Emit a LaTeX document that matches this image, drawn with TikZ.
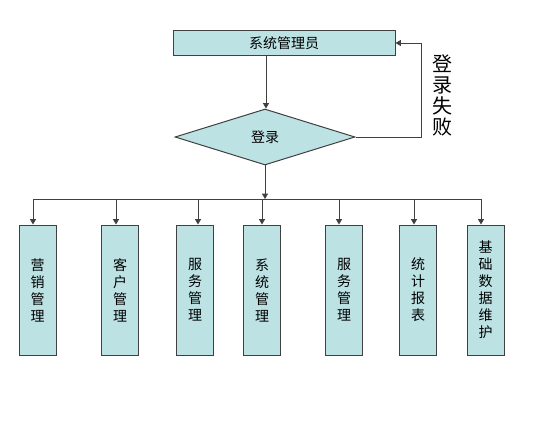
\documentclass[tikz,border=0pt]{standalone}
\usepackage{fontspec}
\newfontfamily\cjk{Noto Sans CJK SC}
\usetikzlibrary{shapes.geometric,arrows.meta}
\definecolor{boxfill}{HTML}{BCE2E4}
\definecolor{boxline}{HTML}{404040}
\tikzset{
  topbox/.style={draw=boxline,fill=boxfill,line width=0.75pt,minimum width=222*0.75pt,minimum height=25*0.75pt,inner sep=0pt,font=\cjk\fontsize{10.5pt}{12pt}\selectfont},
  decide/.style={draw=boxline,fill=boxfill,line width=0.75pt,diamond,aspect=3.2,minimum width=180*0.75pt,minimum height=56*0.75pt,inner sep=0pt,font=\cjk\fontsize{10.5pt}{12pt}\selectfont},
  modbox/.style={draw=boxline,fill=boxfill,line width=0.75pt,minimum width=37*0.75pt,minimum height=130*0.75pt,inner sep=0pt,align=center,font=\cjk\fontsize{10.5pt}{12.75pt}\selectfont},
  conn/.style={draw=black!75,line width=0.6pt},
  arr/.style={conn,-{Triangle[length=4pt,width=4.5pt]}},
  fail/.style={font=\cjk\fontsize{15pt}{15.75pt}\selectfont,align=center,inner sep=0pt}
}
\begin{document}
\begin{tikzpicture}[x=0.75pt,y=-0.75pt]
\useasboundingbox (0,0) rectangle (534,438);
\node[topbox] (admin) at (284,43.5) {系统管理员};
\node[decide] (login) at (265,137) {登录};
\coordinate (ain) at (266,56);
\draw[arr] (ain) -- (ain |- login.north);
\coordinate (fr) at (421,137);
\coordinate (ft) at (421,43);
\draw[arr] (login.east) -- (fr) -- (ft) -- (admin.east |- ft);
\node[fail] (failtxt) at (442.5,95) {登\\录\\失\\败};
\coordinate (bar) at (261,199);
\draw[arr] (login.south) -- (login.south |- bar);
\node[modbox] (m1) at (37.5,290) {营\\销\\管\\理};
\node[modbox] (m2) at (120,290) {客\\户\\管\\理};
\node[modbox] (m3) at (195,290) {服\\务\\管\\理};
\node[modbox] (m4) at (262,290) {系\\统\\管\\理};
\node[modbox] (m5) at (344,290) {服\\务\\管\\理};
\node[modbox] (m6) at (418,290) {统\\计\\报\\表};
\node[modbox] (m7) at (485.5,290) {基\\础\\数\\据\\维\\护};
\coordinate (d1) at (33,199);
\coordinate (d2) at (116,199);
\coordinate (d3) at (198,199);
\coordinate (d4) at (262,199);
\coordinate (d5) at (339,199);
\coordinate (d6) at (414,199);
\coordinate (d7) at (481,199);
\draw[conn] (d1) -- (d7);
\foreach \i in {1,...,7} {
  \draw[arr] (d\i) -- (d\i |- m\i.north);
}
\end{tikzpicture}
\end{document}
